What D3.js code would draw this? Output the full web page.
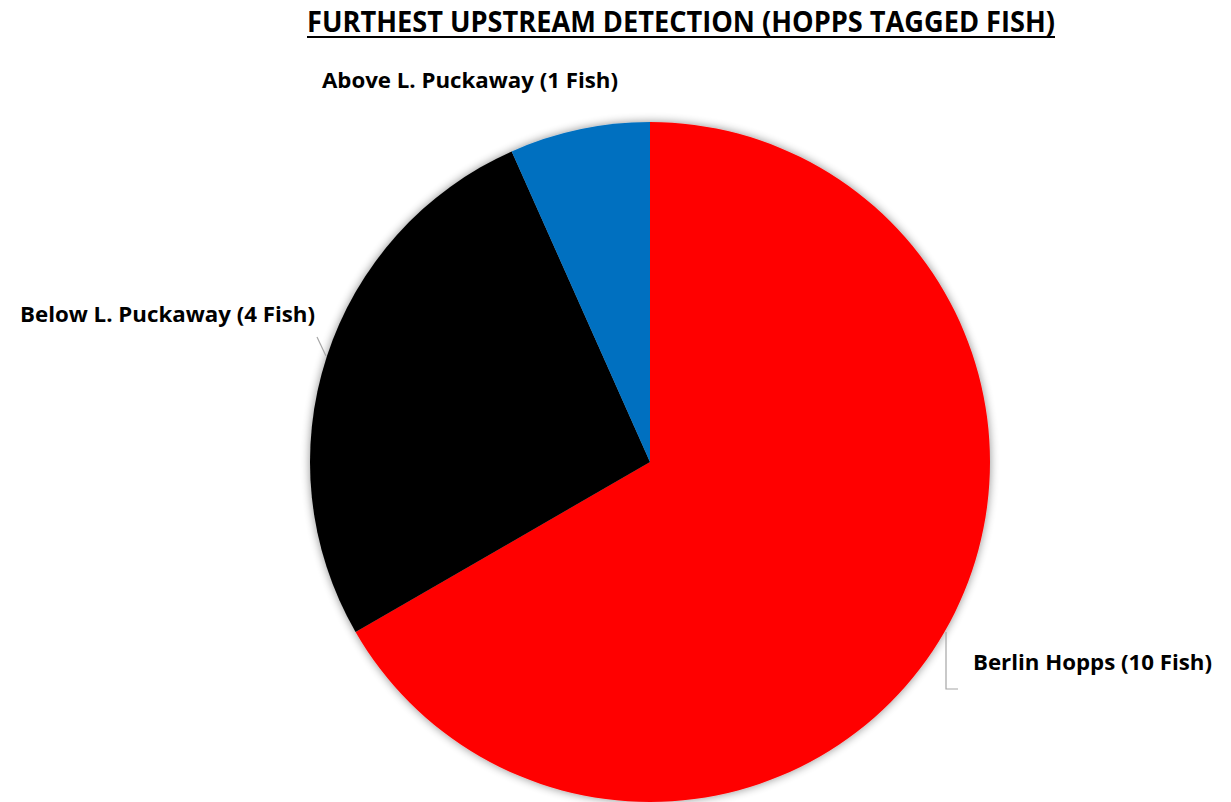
<!DOCTYPE html>
<html><head><meta charset="utf-8">
<script src="https://cdn.jsdelivr.net/npm/d3@7"></script>
<style>html,body{margin:0;padding:0;background:#fff;}</style>
</head><body>
<svg id="chart" width="1231" height="802"></svg>
<script>
const title = "FURTHEST UPSTREAM DETECTION (HOPPS TAGGED FISH)";
const categories = ["Berlin Hopps", "Below L. Puckaway", "Above L. Puckaway"];
const values = [10, 4, 1];
const labels = ["Berlin Hopps (10 Fish)", "Below L. Puckaway (4 Fish)", "Above L. Puckaway (1 Fish)"];
const colors = ["#FF0000", "#000000", "#0070C0"];

const W = 1231, H = 802;
const cx = 650, cy = 462, R = 340;
const font = "'Open Sans', sans-serif";

const svg = d3.select("#chart");
const defs = svg.append("defs");
const f = defs.append("filter").attr("id","shadow").attr("x","-20%").attr("y","-20%").attr("width","140%").attr("height","140%");
f.append("feGaussianBlur").attr("in","SourceAlpha").attr("stdDeviation",5).attr("result","b");
f.append("feOffset").attr("in","b").attr("dx",0).attr("dy",0).attr("result","o");
f.append("feComponentTransfer").attr("in","o").attr("result","s").append("feFuncA").attr("type","linear").attr("slope",0.45);
const m = f.append("feMerge"); m.append("feMergeNode").attr("in","s"); m.append("feMergeNode").attr("in","SourceGraphic");

// Title
svg.append("text").attr("x", 307).attr("y", 32)
  .attr("font-family", font).attr("font-weight", "bold").attr("font-size", 28)
  .attr("textLength", 748).attr("lengthAdjust", "spacingAndGlyphs")
  .attr("fill", "#000").text(title);
svg.append("rect").attr("x", 307).attr("y", 36).attr("width", 748).attr("height", 2).attr("fill", "#000");

const pie = d3.pie().sort(null).value(d => d)(values);
const arc = d3.arc().innerRadius(0).outerRadius(R);
const g = svg.append("g").attr("transform", `translate(${cx},${cy})`).attr("filter","url(#shadow)");
g.selectAll("path").data(pie).join("path")
  .attr("d", arc).attr("fill", (d,i) => colors[i]);

// Labels
const labelPos = [
  {x: 973, y: 670, w: 239},
  {x: 20, y: 322, w: 295},
  {x: 322, y: 88, w: 296}
];
svg.selectAll("text.lbl").data(labels).join("text").attr("class","lbl")
  .attr("x", (d,i) => labelPos[i].x).attr("y", (d,i) => labelPos[i].y)
  .attr("font-family", font).attr("font-weight", "bold").attr("font-size", 22)
  .attr("textLength", (d,i) => labelPos[i].w).attr("lengthAdjust", "spacingAndGlyphs")
  .attr("fill", "#000").text(d => d);

// Leader lines
svg.append("polyline").attr("points", "946,632 946,689 958,689")
  .attr("fill","none").attr("stroke","#a6a6a6").attr("stroke-width",1.2);
svg.append("line").attr("x1",317).attr("y1",337).attr("x2",326).attr("y2",356)
  .attr("stroke","#a6a6a6").attr("stroke-width",1.2);
</script>
</body></html>
